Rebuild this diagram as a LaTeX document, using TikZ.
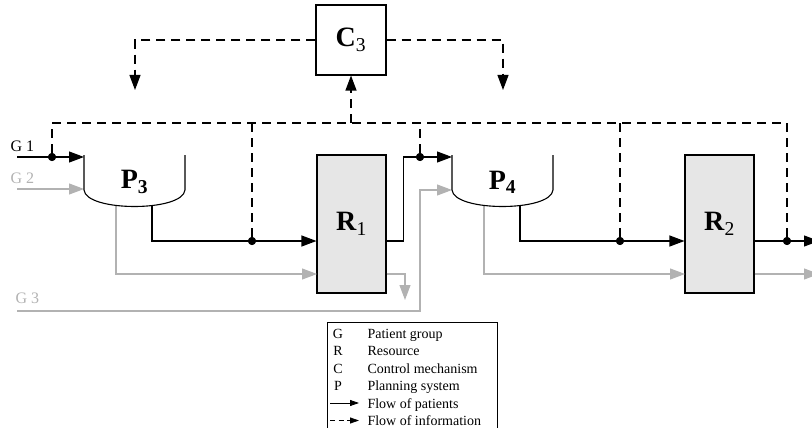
\documentclass[tikz,border=0pt]{standalone}
\usepackage{fontspec}
\setmainfont{Liberation Serif}
\usepackage{tikz}
\usetikzlibrary{arrows.meta}
\definecolor{patgray}{RGB}{178,178,178}
\definecolor{resgray}{RGB}{230,230,230}

\begin{document}
\begin{tikzpicture}[x=1pt,y=-1pt,
	flow/.style={line width=1.1pt,-{Triangle[length=15pt,width=11pt]}},
	grayflow/.style={flow,draw=patgray,color=patgray},
	info/.style={line width=1.1pt,dash pattern=on 9pt off 6pt},
	infoarrow/.style={info,-{Triangle[length=15pt,width=11pt]}},
	junction/.style={circle,fill=black,inner sep=0pt,minimum size=8pt},
	resource/.style={draw,line width=1.1pt,fill=resgray,minimum width=69pt,minimum height=138pt,inner sep=0pt,font=\fontsize{28}{32}\selectfont},
	control/.style={draw,line width=1.1pt,fill=white,minimum width=70pt,minimum height=70pt,inner sep=0pt,font=\fontsize{28}{32}\selectfont},
	planning/.style={line width=1.1pt,fill=white},
	plabel/.style={font=\fontsize{28}{32}\selectfont\bfseries},
	glabel/.style={anchor=base west,font=\fontsize{16}{18}\selectfont},
	legend/.style={anchor=base west,font=\fontsize{14}{16}\selectfont}]
	
	\useasboundingbox (0,0) rectangle (812,428);
	
	% control mechanism and resources
	\node[control] (C3) at (351,40) {\textbf{C}\textsubscript{3}};
	\node[resource] (R1) at (351.5,224) {\textbf{R}\textsubscript{1}};
	\node[resource] (R2) at (719.5,224) {\textbf{R}\textsubscript{2}};
	
	% junctions
	\node[junction] (j1) at (52,157) {};
	\node[junction] (j2) at (252,241) {};
	\node[junction] (j3) at (420,157) {};
	\node[junction] (j4) at (620,241) {};
	\node[junction] (j5) at (787,241) {};
	
	% ports
	\coordinate (g1) at (17,157);
	\coordinate (g2) at (17,189);
	\coordinate (g3) at (17,311);
	\coordinate (P3in1) at (84,157);
	\coordinate (P3in2) at (84,189);
	\coordinate (P4in1) at (452,157);
	\coordinate (P4in2) at (452,190);
	\coordinate (P3o1) at (116,200);
	\coordinate (P3o2) at (152,200);
	\coordinate (P4o1) at (484,200);
	\coordinate (P4o2) at (520,200);
	\coordinate (R1in2) at (317,274);
	\coordinate (R2in2) at (685,274);
	\coordinate (R1gout) at (405,300);
	\coordinate (out1) at (819,241);
	\coordinate (out2) at (819,274);
	\coordinate (P3top) at (135,90);
	\coordinate (P4top) at (503,90);
	\coordinate (busL) at (52,123);
	\coordinate (busR) at (787,123);
	
	% flow of information
	\draw[info] (j1) -- (busL) -- (busR) -- (j5);
	\draw[info] (j2) -- (j2 |- busL);
	\draw[info] (j3) -- (j3 |- busL);
	\draw[info] (j4) -- (j4 |- busL);
	\draw[infoarrow] (C3.south |- busL) -- (C3.south);
	\draw[infoarrow] (C3.west) -| (P3top);
	\draw[infoarrow] (C3.east) -| (P4top);
	
	% flow of patients
	\draw[flow] (g1) -- (j1) -- (P3in1);
	\draw[grayflow] (g2) -- (P3in2);
	\draw[grayflow] (g3) -| (P4in2 -| j3) -- (P4in2);
	\draw[flow] (P3o2) |- (j2) -- (j2 -| R1.west);
	\draw[grayflow] (P3o1) |- (R1in2);
	\draw[flow] (R1.east |- j2) -- ++(17,0) |- (j3) -- (P4in1);
	\draw[grayflow] (R1in2 -| R1.east) -| (R1gout);
	\draw[flow] (P4o2) |- (j4) -- (j4 -| R2.west);
	\draw[grayflow] (P4o1) |- (R2in2);
	\draw[flow] (R2.east |- j5) -- (j5) -- (out1);
	\draw[grayflow] (R2in2 -| R2.east) -- (out2);
	
	% planning systems
	\draw[planning] (84,155) -- (84,190) .. controls (86,212) and (183,212) .. (185,190) -- (185,155);
	\draw[planning] (452,155) -- (452,190) .. controls (454,212) and (551,212) .. (553,190) -- (553,155);
	\node[plabel] (P3) at (134.5,182) {P\textsubscript{3}};
	\node[plabel] (P4) at (502.5,182) {P\textsubscript{4}};
	
	% junction dots on top
	\foreach \j in {j1,j2,j3,j4,j5}
		\fill (\j) circle (4pt);
	
	% patient groups
	\node[glabel] (G1) at (7,151) {G 1};
	\node[glabel,text=patgray] (G2) at (7,183) {G 2};
	\node[glabel,text=patgray] (G3) at (12,303) {G 3};
	
	% legend
	\draw[line width=0.6pt] (327,322) rectangle (497,432);
	\node[legend,anchor=base] (lG) at (338,338) {G};
	\node[legend,anchor=base] (lR) at (338,355.5) {R};
	\node[legend,anchor=base] (lC) at (338,373) {C};
	\node[legend,anchor=base] (lP) at (338,390.5) {P};
	\node[legend] (tG) at (364,338) {Patient group};
	\node[legend] (tR) at (364,355.5) {Resource};
	\node[legend] (tC) at (364,373) {Control mechanism};
	\node[legend] (tP) at (364,390.5) {Planning system};
	\node[legend] (tF) at (364,408) {Flow of patients};
	\node[legend] (tI) at (364,425.5) {Flow of information};
	\coordinate (fa) at (330,403);
	\coordinate (fb) at (359,403);
	\coordinate (ia) at (330,420.5);
	\coordinate (ib) at (359,420.5);
	\draw[line width=0.8pt,-{Triangle[length=9pt,width=6pt]}] (fa) -- (fb);
	\draw[line width=0.8pt,dash pattern=on 5pt off 3.5pt,-{Triangle[length=9pt,width=6pt]}] (ia) -- (ib);
	
\end{tikzpicture}
\end{document}
